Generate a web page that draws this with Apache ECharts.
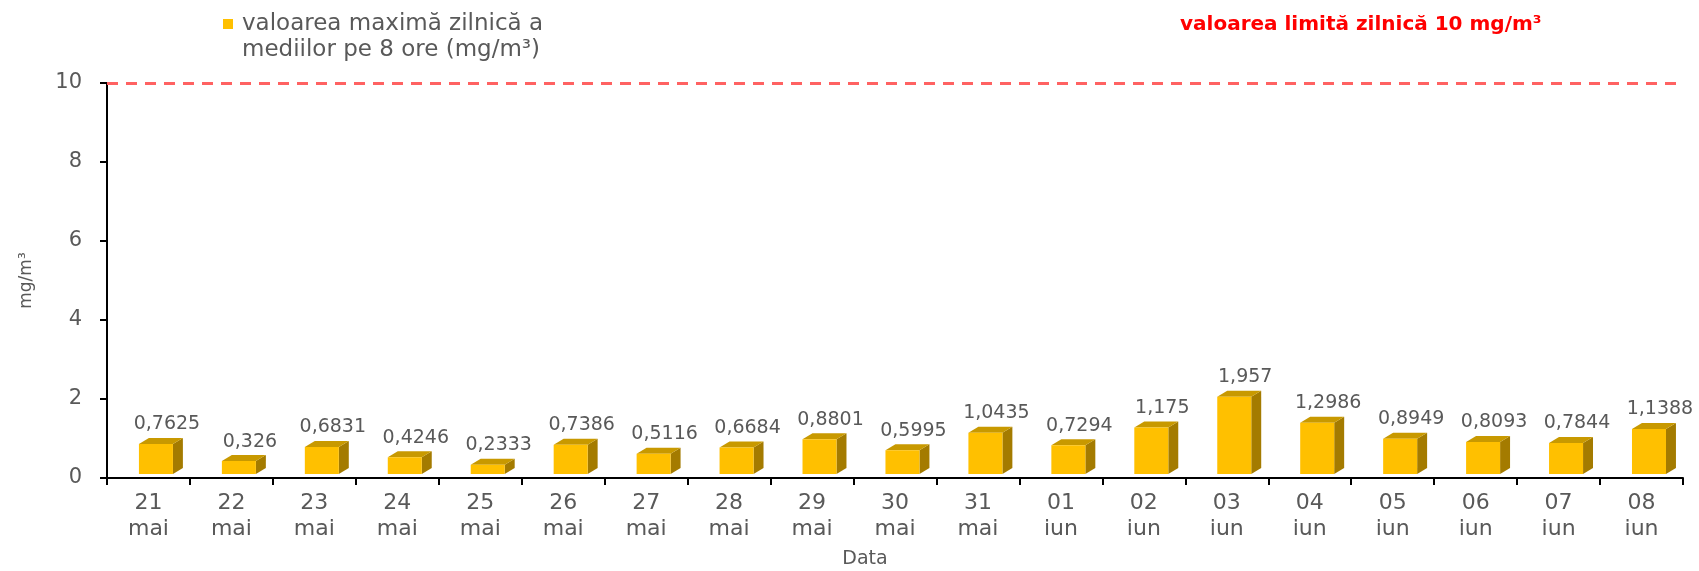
<!DOCTYPE html>
<html>
<head>
<meta charset="utf-8">
<script src="https://cdn.jsdelivr.net/npm/echarts@6/dist/echarts.min.js"></script>
<style>
  html, body { margin: 0; padding: 0; background: #fff; }
  #chart { width: 1699px; height: 571px; }
</style>
</head>
<body>
<div id="chart"></div>
<script>
const days = ["21\nmai", "22\nmai", "23\nmai", "24\nmai", "25\nmai", "26\nmai", "27\nmai",
  "28\nmai", "29\nmai", "30\nmai", "31\nmai", "01\niun", "02\niun", "03\niun", "04\niun",
  "05\niun", "06\niun", "07\niun", "08\niun"];
const maxDaily = [0.7625, 0.326, 0.6831, 0.4246, 0.2333, 0.7386, 0.5116, 0.6684, 0.8801,
  0.5995, 1.0435, 0.7294, 1.175, 1.957, 1.2986, 0.8949, 0.8093, 0.7844, 1.1388];
const limitValue = 10;
const yTicks = [0, 2, 4, 6, 8, 10];

const seriesName = "valoarea maximă zilnică a\nmediilor pe 8 ore (mg/m³)";
const limitText = "valoarea limită zilnică 10 mg/m³";

const textGrey = "#595959";
const font = "DejaVu Sans";

const chart = echarts.init(document.getElementById("chart"));

// 3D-looking column: front face, dark side, top lid, value above
function renderBar(params, api) {
  const idx = api.value(0);
  const val = api.value(1);
  const base = api.coord([idx, 0]);
  const top = api.coord([idx, val]);
  const band = api.size([1, 0])[0];
  const lift = 4;
  const x0 = base[0] - band * 0.115;
  const w = band * 0.41;
  const dx = band * 0.12;
  const dy = 6;
  const yb = base[1] - lift;
  const yt = top[1] - lift;
  return {
    type: "group",
    children: [
      {
        type: "polygon",
        shape: { points: [[x0 + w, yt], [x0 + w + dx, yt - dy], [x0 + w + dx, yb - dy], [x0 + w, yb]] },
        style: { fill: "#A47B00" },
      },
      {
        type: "polygon",
        shape: { points: [[x0, yt], [x0 + dx, yt - dy], [x0 + w + dx, yt - dy], [x0 + w, yt]] },
        style: { fill: "#C89900" },
      },
      {
        type: "rect",
        shape: { x: x0, y: yt, width: w, height: yb - yt },
        style: { fill: "#FFC000" },
      },
      {
        type: "text",
        x: x0 + (w + dx) / 2 + 6,
        y: yt - dy - 4,
        style: {
          text: String(val).replace(".", ","),
          fill: textGrey,
          font: "19px '" + font + "'",
          align: "center",
          verticalAlign: "bottom",
        },
      },
    ],
  };
}

chart.setOption({
  animation: false,
  backgroundColor: "#fff",
  color: ["#FFC000"],
  textStyle: { fontFamily: font },
  title: {
    text: limitText,
    left: 1180,
    top: 15,
    padding: 0,
    textStyle: { color: "#FF0000", fontSize: 20, fontWeight: "bold", fontFamily: font },
  },
  legend: {
    left: 223,
    top: 11,
    padding: 0,
    selectedMode: false,
    itemWidth: 10,
    itemHeight: 36,
    icon: "path://M0,0L10,0L10,10L0,10Z M0,36L0,36",
    data: [seriesName],
    textStyle: { color: textGrey, fontSize: 23, lineHeight: 26, padding: [0, 0, 0, 4] },
  },
  grid: { left: 107, right: 16, top: 83, bottom: 93, outerBoundsMode: "none" },
  xAxis: {
    type: "category",
    data: days,
    name: "Data",
    nameLocation: "middle",
    nameGap: 72,
    nameTextStyle: { color: textGrey, fontSize: 19, padding: [0, 60, 0, 0] },
    axisLine: { lineStyle: { color: "#000", width: 2 } },
    axisTick: { show: true, length: 7, lineStyle: { color: "#000", width: 2 } },
    axisLabel: { interval: 0, color: textGrey, fontSize: 22, lineHeight: 26, margin: 12 },
  },
  yAxis: {
    type: "value",
    min: yTicks[0],
    max: yTicks[yTicks.length - 1],
    interval: yTicks[1] - yTicks[0],
    name: "mg/m³",
    nameLocation: "middle",
    nameGap: 72,
    nameTextStyle: { color: textGrey, fontSize: 17 },
    axisLine: { show: true, lineStyle: { color: "#000", width: 2 } },
    axisTick: { show: true, length: 7, lineStyle: { color: "#000", width: 2 } },
    axisLabel: { color: textGrey, fontSize: 21, margin: 25 },
    splitLine: { show: false },
  },
  series: [
    {
      name: seriesName,
      type: "custom",
      renderItem: renderBar,
      encode: { x: 0, y: 1 },
      data: maxDaily.map((v, i) => [i, v]),
      markLine: {
        silent: true,
        symbol: "none",
        label: { show: false },
        lineStyle: { color: "#FF6262", type: [11, 8], width: 3 },
        data: [{ yAxis: limitValue }],
      },
    },
  ],
});
</script>
</body>
</html>
